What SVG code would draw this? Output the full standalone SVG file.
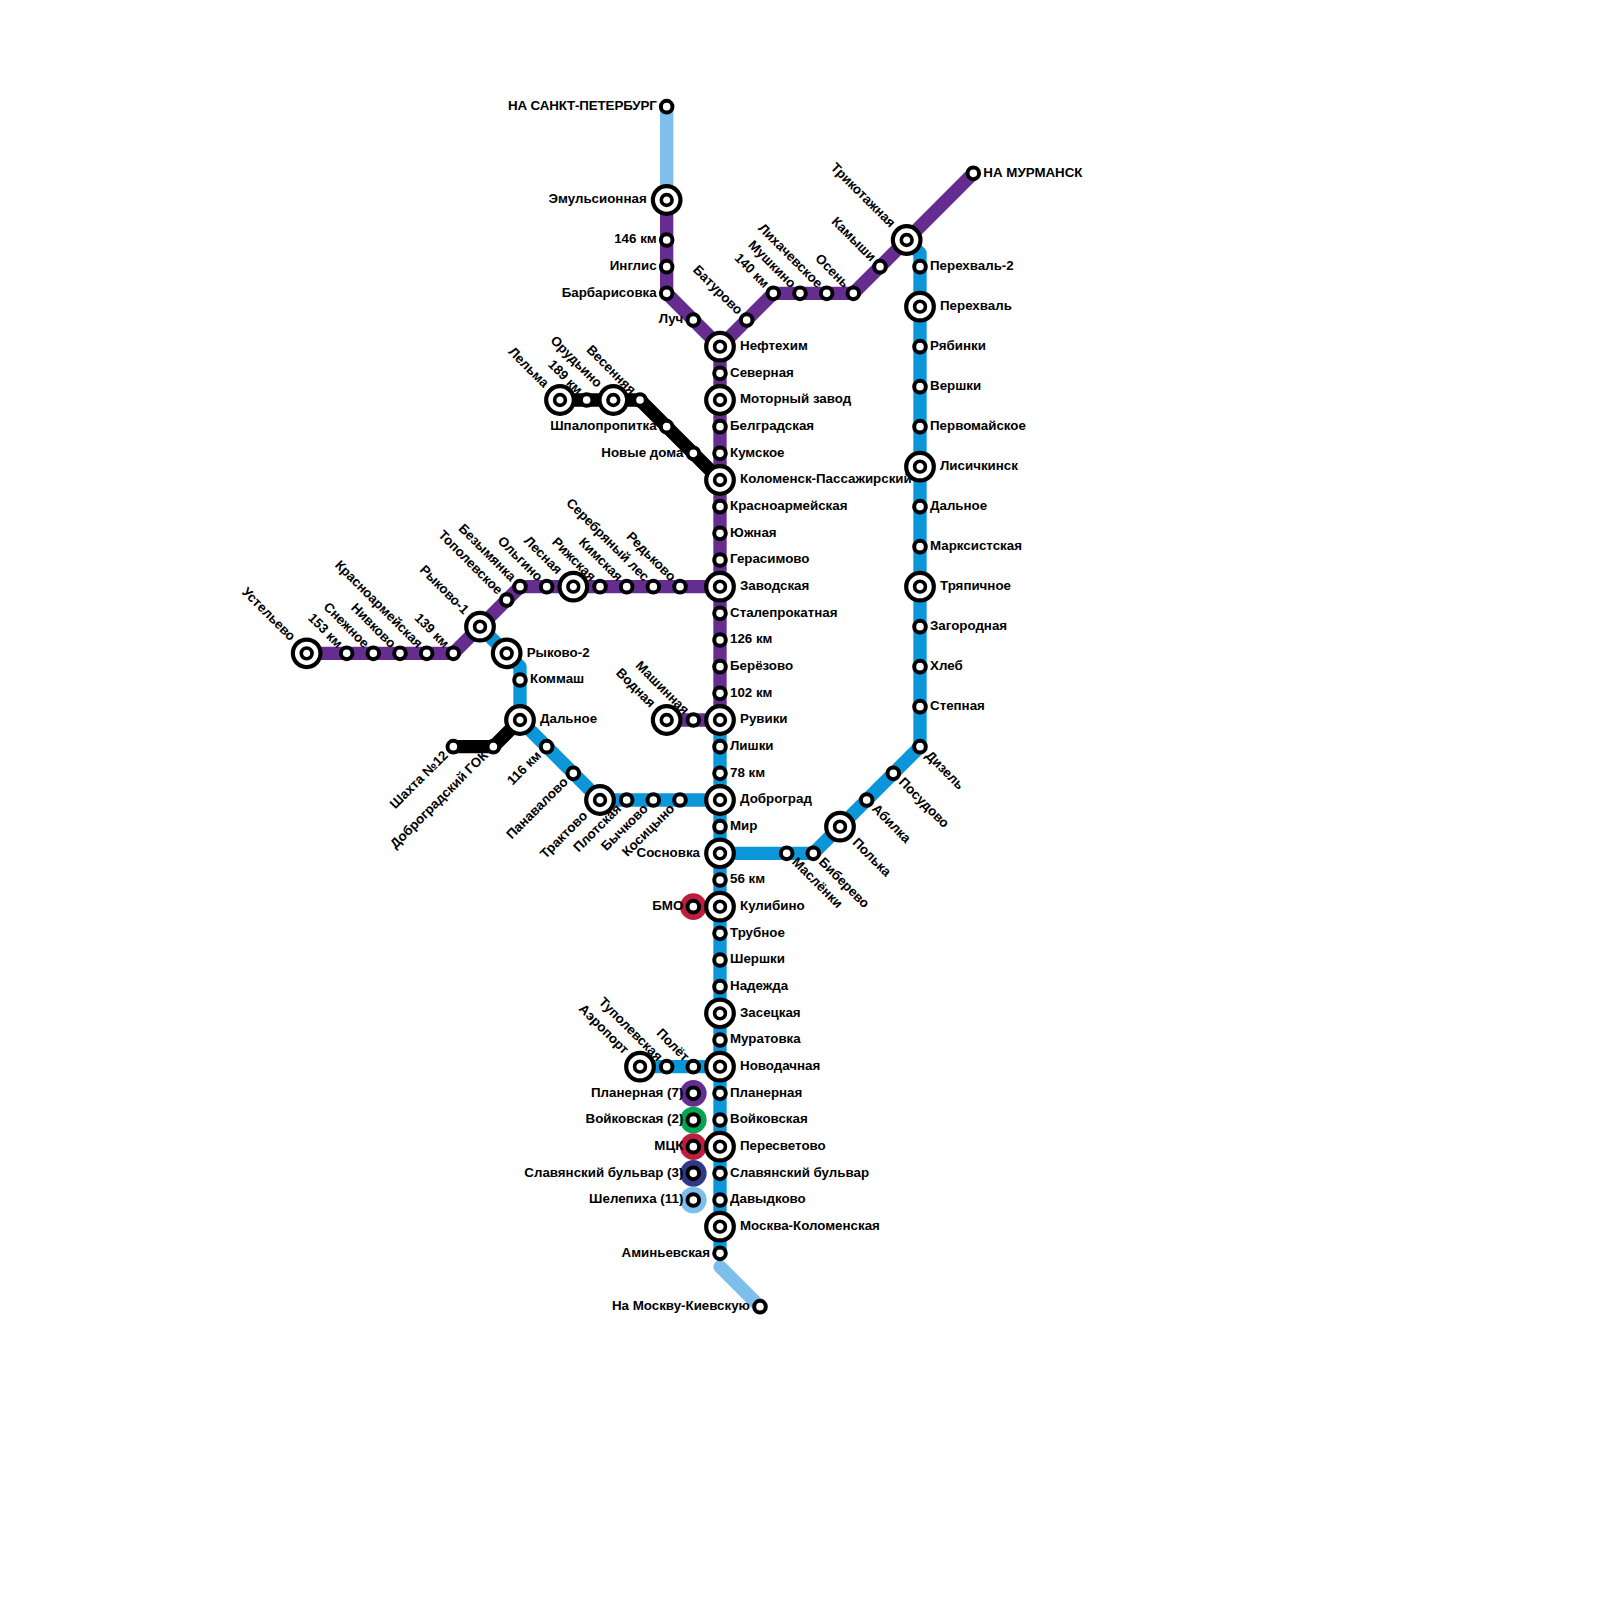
<svg xmlns="http://www.w3.org/2000/svg" width="1600" height="1600" viewBox="0 0 1600 1600">
<style>
text{font-family:"Liberation Sans",Arial,sans-serif;font-weight:700;font-size:13.33px;fill:#000}
.l{fill:none;stroke-width:13.33;stroke-linecap:round;stroke-linejoin:round}
.p{stroke:#662d91}.b{stroke:#0a96d8}.k{stroke:#000}.c{stroke:#7dbfea}
.e{text-anchor:end}
</style>
<defs>
<g id="s"><circle r="5.8" fill="#fff" stroke="#000" stroke-width="4"/></g>
<g id="B"><circle r="13.8" fill="#fff" stroke="#000" stroke-width="4.2"/><circle r="5.4" fill="#fff" stroke="#000" stroke-width="3.6"/></g>
</defs>
<g id="connectors">
<path class="l c" d="M666.67 106.67V200"/>
<path class="l c" d="M720 1266.67L760 1306.67"/>
<path class="l b" d="M906.67 240L920 253.33V746.67L813.33 853.33H720"/>
<path class="l b" d="M480 626.67L506.67 653.33L520 666.67V720L600 800H720"/>
<path class="l b" d="M640 1066.67H720"/>
<path class="l b" d="M720 720V1253.33"/>
<path class="l p" d="M666.67 200V293.33L720 346.67V720"/>
<path class="l p" d="M720 346.67L773.33 293.33H853.33L973.33 173.33"/>
<path class="l p" d="M306.67 653.33H453.33L520 586.67H720"/>
<path class="l p" d="M666.67 720H720"/>
<path class="l k" d="M560 400H640L720 480"/>
<path class="l k" d="M453.33 746.67H493.33L520 720"/>
</g>
<g id="halos">
<circle cx="693.33" cy="906.67" r="13.33" fill="#be1e3d"/>
<circle cx="693.33" cy="1093.33" r="13.33" fill="#662d91"/>
<circle cx="693.33" cy="1120" r="13.33" fill="#00a651"/>
<circle cx="693.33" cy="1146.67" r="13.33" fill="#be1e3d"/>
<circle cx="693.33" cy="1173.33" r="13.33" fill="#2e3a87"/>
<circle cx="693.33" cy="1200" r="13.33" fill="#7dbfea"/>
</g>
<g id="n1" transform="translate(666.67 106.67)"><use href="#s"/><text class="e" x="-10" y="3.4" letter-spacing="-0.12">НА САНКТ-ПЕТЕРБУРГ</text></g>
<g id="n2" transform="translate(666.67 200)"><use href="#B"/><text class="e" x="-20" y="3.4">Эмульсионная</text></g>
<g id="n3" transform="translate(666.67 240)"><use href="#s"/><text class="e" x="-10" y="3.4">146 км</text></g>
<g id="n4" transform="translate(666.67 266.67)"><use href="#s"/><text class="e" x="-10" y="3.4">Инглис</text></g>
<g id="n5" transform="translate(666.67 293.33)"><use href="#s"/><text class="e" x="-10" y="3.4">Барбарисовка</text></g>
<g id="n6" transform="translate(693.33 320)"><use href="#s"/><text class="e" x="-10" y="3.4">Луч</text></g>
<g id="n7" transform="translate(720 346.67)"><use href="#B"/><text x="20" y="3.4">Нефтехим</text></g>
<g id="n8" transform="translate(720 373.33)"><use href="#s"/><text x="10" y="3.4">Северная</text></g>
<g id="n9" transform="translate(720 400)"><use href="#B"/><text x="20" y="3.4">Моторный завод</text></g>
<g id="n10" transform="translate(720 426.67)"><use href="#s"/><text x="10" y="3.4">Белградская</text></g>
<g id="n11" transform="translate(720 453.33)"><use href="#s"/><text x="10" y="3.4">Кумское</text></g>
<g id="n12" transform="translate(720 480)"><use href="#B"/><text x="20" y="3.4">Коломенск-Пассажирский</text></g>
<g id="n13" transform="translate(720 506.67)"><use href="#s"/><text x="10" y="3.4">Красноармейская</text></g>
<g id="n14" transform="translate(720 533.33)"><use href="#s"/><text x="10" y="3.4">Южная</text></g>
<g id="n15" transform="translate(720 560)"><use href="#s"/><text x="10" y="3.4">Герасимово</text></g>
<g id="n16" transform="translate(720 586.67)"><use href="#B"/><text x="20" y="3.4">Заводская</text></g>
<g id="n17" transform="translate(720 613.33)"><use href="#s"/><text x="10" y="3.4">Сталепрокатная</text></g>
<g id="n18" transform="translate(720 640)"><use href="#s"/><text x="10" y="3.4">126 км</text></g>
<g id="n19" transform="translate(720 666.67)"><use href="#s"/><text x="10" y="3.4">Берёзово</text></g>
<g id="n20" transform="translate(720 693.33)"><use href="#s"/><text x="10" y="3.4">102 км</text></g>
<g id="n21" transform="translate(720 720)"><use href="#B"/><text x="20" y="3.4">Рувики</text></g>
<g id="n22" transform="translate(720 746.67)"><use href="#s"/><text x="10" y="3.4">Лишки</text></g>
<g id="n23" transform="translate(720 773.33)"><use href="#s"/><text x="10" y="3.4">78 км</text></g>
<g id="n24" transform="translate(720 800)"><use href="#B"/><text x="20" y="3.4">Доброград</text></g>
<g id="n25" transform="translate(720 826.67)"><use href="#s"/><text x="10" y="3.4">Мир</text></g>
<g id="n26" transform="translate(720 853.33)"><use href="#B"/><text class="e" x="-20" y="3.4">Сосновка</text></g>
<g id="n27" transform="translate(720 880)"><use href="#s"/><text x="10" y="3.4">56 км</text></g>
<g id="n28" transform="translate(720 906.67)"><use href="#B"/><text x="20" y="3.4">Кулибино</text></g>
<g id="n29" transform="translate(720 933.33)"><use href="#s"/><text x="10" y="3.4">Трубное</text></g>
<g id="n30" transform="translate(720 960)"><use href="#s"/><text x="10" y="3.4">Шершки</text></g>
<g id="n31" transform="translate(720 986.67)"><use href="#s"/><text x="10" y="3.4">Надежда</text></g>
<g id="n32" transform="translate(720 1013.33)"><use href="#B"/><text x="20" y="3.4">Засецкая</text></g>
<g id="n33" transform="translate(720 1040)"><use href="#s"/><text x="10" y="3.4">Муратовка</text></g>
<g id="n34" transform="translate(720 1066.67)"><use href="#B"/><text x="20" y="3.4">Новодачная</text></g>
<g id="n35" transform="translate(720 1093.33)"><use href="#s"/><text x="10" y="3.4">Планерная</text></g>
<g id="n36" transform="translate(720 1120)"><use href="#s"/><text x="10" y="3.4">Войковская</text></g>
<g id="n37" transform="translate(720 1146.67)"><use href="#B"/><text x="20" y="3.4">Пересветово</text></g>
<g id="n38" transform="translate(720 1173.33)"><use href="#s"/><text x="10" y="3.4">Славянский бульвар</text></g>
<g id="n39" transform="translate(720 1200)"><use href="#s"/><text x="10" y="3.4">Давыдково</text></g>
<g id="n40" transform="translate(720 1226.67)"><use href="#B"/><text x="20" y="3.4">Москва-Коломенская</text></g>
<g id="n41" transform="translate(720 1253.33)"><use href="#s"/><text class="e" x="-10" y="3.4">Аминьевская</text></g>
<g id="n42" transform="translate(760 1306.67)"><use href="#s"/><text class="e" x="-10" y="3.4">На Москву-Киевскую</text></g>
<g id="n43" transform="translate(693.33 906.67)"><use href="#s"/><text class="e" x="-10" y="3.4">БМО</text></g>
<g id="n44" transform="translate(693.33 1093.33)"><use href="#s"/><text class="e" x="-10" y="3.4">Планерная (7)</text></g>
<g id="n45" transform="translate(693.33 1120)"><use href="#s"/><text class="e" x="-10" y="3.4">Войковская (2)</text></g>
<g id="n46" transform="translate(693.33 1146.67)"><use href="#s"/><text class="e" x="-10" y="3.4">МЦК</text></g>
<g id="n47" transform="translate(693.33 1173.33)"><use href="#s"/><text class="e" x="-10" y="3.4">Славянский бульвар (3)</text></g>
<g id="n48" transform="translate(693.33 1200)"><use href="#s"/><text class="e" x="-10" y="3.4">Шелепиха (11)</text></g>
<g id="n49" transform="translate(973.33 173.33)"><use href="#s"/><text x="10" y="3.4">НА МУРМАНСК</text></g>
<g id="n50" transform="translate(906.67 240)"><use href="#B"/><text class="e" transform="rotate(45)" x="-20" y="3.4">Трикотажная</text></g>
<g id="n51" transform="translate(880 266.67)"><use href="#s"/><text class="e" transform="rotate(45)" x="-10" y="3.4">Камыши</text></g>
<g id="n52" transform="translate(853.33 293.33)"><use href="#s"/><text class="e" transform="rotate(45)" x="-10" y="3.4">Осень</text></g>
<g id="n53" transform="translate(826.67 293.33)"><use href="#s"/><text class="e" transform="rotate(45)" x="-10" y="3.4">Лихачевское</text></g>
<g id="n54" transform="translate(800 293.33)"><use href="#s"/><text class="e" transform="rotate(45)" x="-10" y="3.4">Мушкино</text></g>
<g id="n55" transform="translate(773.33 293.33)"><use href="#s"/><text class="e" transform="rotate(45)" x="-10" y="3.4">140 км</text></g>
<g id="n56" transform="translate(746.67 320)"><use href="#s"/><text class="e" transform="rotate(45)" x="-10" y="3.4">Батурово</text></g>
<g id="n57" transform="translate(920 266.67)"><use href="#s"/><text x="10" y="3.4">Перехваль-2</text></g>
<g id="n58" transform="translate(920 306.67)"><use href="#B"/><text x="20" y="3.4">Перехваль</text></g>
<g id="n59" transform="translate(920 346.67)"><use href="#s"/><text x="10" y="3.4">Рябинки</text></g>
<g id="n60" transform="translate(920 386.67)"><use href="#s"/><text x="10" y="3.4">Вершки</text></g>
<g id="n61" transform="translate(920 426.67)"><use href="#s"/><text x="10" y="3.4">Первомайское</text></g>
<g id="n62" transform="translate(920 466.67)"><use href="#B"/><text x="20" y="3.4">Лисичкинск</text></g>
<g id="n63" transform="translate(920 506.67)"><use href="#s"/><text x="10" y="3.4">Дальное</text></g>
<g id="n64" transform="translate(920 546.67)"><use href="#s"/><text x="10" y="3.4">Марксистская</text></g>
<g id="n65" transform="translate(920 586.67)"><use href="#B"/><text x="20" y="3.4">Тряпичное</text></g>
<g id="n66" transform="translate(920 626.67)"><use href="#s"/><text x="10" y="3.4">Загородная</text></g>
<g id="n67" transform="translate(920 666.67)"><use href="#s"/><text x="10" y="3.4">Хлеб</text></g>
<g id="n68" transform="translate(920 706.67)"><use href="#s"/><text x="10" y="3.4">Степная</text></g>
<g id="n69" transform="translate(920 746.67)"><use href="#s"/><text transform="rotate(45)" x="10" y="3.4">Дизель</text></g>
<g id="n70" transform="translate(893.33 773.33)"><use href="#s"/><text transform="rotate(45)" x="10" y="3.4">Посудово</text></g>
<g id="n71" transform="translate(866.67 800)"><use href="#s"/><text transform="rotate(45)" x="10" y="3.4">Абилка</text></g>
<g id="n72" transform="translate(840 826.67)"><use href="#B"/><text transform="rotate(45)" x="20" y="3.4">Полька</text></g>
<g id="n73" transform="translate(813.33 853.33)"><use href="#s"/><text transform="rotate(45)" x="10" y="3.4">Биберево</text></g>
<g id="n74" transform="translate(786.67 853.33)"><use href="#s"/><text transform="rotate(45)" x="10" y="3.4">Маслёнки</text></g>
<g id="n75" transform="translate(560 400)"><use href="#B"/><text class="e" transform="rotate(45)" x="-20" y="3.4">Лельма</text></g>
<g id="n76" transform="translate(586.67 400)"><use href="#s"/><text class="e" transform="rotate(45)" x="-10" y="3.4">189 км</text></g>
<g id="n77" transform="translate(613.33 400)"><use href="#B"/><text class="e" transform="rotate(45)" x="-20" y="3.4">Орудьино</text></g>
<g id="n78" transform="translate(640 400)"><use href="#s"/><text class="e" transform="rotate(45)" x="-10" y="3.4">Весенняя</text></g>
<g id="n79" transform="translate(666.67 426.67)"><use href="#s"/><text class="e" x="-10" y="3.4">Шпалопропитка</text></g>
<g id="n80" transform="translate(693.33 453.33)"><use href="#s"/><text class="e" x="-10" y="3.4">Новые дома</text></g>
<g id="n81" transform="translate(680 586.67)"><use href="#s"/><text class="e" transform="rotate(45)" x="-10" y="3.4">Редьково</text></g>
<g id="n82" transform="translate(653.33 586.67)"><use href="#s"/><text class="e" transform="rotate(45)" x="-10" y="3.4">Серебряный лес</text></g>
<g id="n83" transform="translate(626.67 586.67)"><use href="#s"/><text class="e" transform="rotate(45)" x="-10" y="3.4">Кимская</text></g>
<g id="n84" transform="translate(600 586.67)"><use href="#s"/><text class="e" transform="rotate(45)" x="-10" y="3.4">Рижская</text></g>
<g id="n85" transform="translate(573.33 586.67)"><use href="#B"/><text class="e" transform="rotate(45)" x="-20" y="3.4">Лесная</text></g>
<g id="n86" transform="translate(546.67 586.67)"><use href="#s"/><text class="e" transform="rotate(45)" x="-10" y="3.4">Ольгино</text></g>
<g id="n87" transform="translate(520 586.67)"><use href="#s"/><text class="e" transform="rotate(45)" x="-10" y="3.4">Безымянка</text></g>
<g id="n88" transform="translate(506.67 600)"><use href="#s"/><text class="e" transform="rotate(45)" x="-10" y="3.4">Тополевское</text></g>
<g id="n89" transform="translate(480 626.67)"><use href="#B"/><text class="e" transform="rotate(45)" x="-20" y="3.4">Рыково-1</text></g>
<g id="n90" transform="translate(453.33 653.33)"><use href="#s"/><text class="e" transform="rotate(45)" x="-10" y="3.4">139 км</text></g>
<g id="n91" transform="translate(426.67 653.33)"><use href="#s"/><text class="e" transform="rotate(45)" x="-10" y="3.4">Красноармейская</text></g>
<g id="n92" transform="translate(400 653.33)"><use href="#s"/><text class="e" transform="rotate(45)" x="-10" y="3.4">Нивково</text></g>
<g id="n93" transform="translate(373.33 653.33)"><use href="#s"/><text class="e" transform="rotate(45)" x="-10" y="3.4">Снежное</text></g>
<g id="n94" transform="translate(346.67 653.33)"><use href="#s"/><text class="e" transform="rotate(45)" x="-10" y="3.4">153 км</text></g>
<g id="n95" transform="translate(306.67 653.33)"><use href="#B"/><text class="e" transform="rotate(45)" x="-20" y="3.4">Устельево</text></g>
<g id="n96" transform="translate(506.67 653.33)"><use href="#B"/><text x="20" y="3.4">Рыково-2</text></g>
<g id="n97" transform="translate(520 680)"><use href="#s"/><text x="10" y="3.4">Коммаш</text></g>
<g id="n98" transform="translate(520 720)"><use href="#B"/><text x="20" y="3.4">Дальное</text></g>
<g id="n99" transform="translate(453.33 746.67)"><use href="#s"/><text class="e" transform="rotate(-45)" x="-10" y="3.4">Шахта №12</text></g>
<g id="n100" transform="translate(493.33 746.67)"><use href="#s"/><text class="e" transform="rotate(-45)" x="-10" y="3.4">Доброградский ГОК</text></g>
<g id="n101" transform="translate(546.67 746.67)"><use href="#s"/><text class="e" transform="rotate(-45)" x="-10" y="3.4">116 км</text></g>
<g id="n102" transform="translate(573.33 773.33)"><use href="#s"/><text class="e" transform="rotate(-45)" x="-10" y="3.4">Панавалово</text></g>
<g id="n103" transform="translate(600 800)"><use href="#B"/><text class="e" transform="rotate(-45)" x="-20" y="3.4">Трактово</text></g>
<g id="n104" transform="translate(626.67 800)"><use href="#s"/><text class="e" transform="rotate(-45)" x="-10" y="3.4">Плотская</text></g>
<g id="n105" transform="translate(653.33 800)"><use href="#s"/><text class="e" transform="rotate(-45)" x="-10" y="3.4">Бычково</text></g>
<g id="n106" transform="translate(680 800)"><use href="#s"/><text class="e" transform="rotate(-45)" x="-10" y="3.4">Косицыно</text></g>
<g id="n107" transform="translate(666.67 720)"><use href="#B"/><text class="e" transform="rotate(45)" x="-20" y="3.4">Водная</text></g>
<g id="n108" transform="translate(693.33 720)"><use href="#s"/><text class="e" transform="rotate(45)" x="-10" y="3.4">Машинная</text></g>
<g id="n109" transform="translate(640 1066.67)"><use href="#B"/><text class="e" transform="rotate(45)" x="-20" y="3.4">Аэропорт</text></g>
<g id="n110" transform="translate(666.67 1066.67)"><use href="#s"/><text class="e" transform="rotate(45)" x="-10" y="3.4">Туполевская</text></g>
<g id="n111" transform="translate(693.33 1066.67)"><use href="#s"/><text class="e" transform="rotate(45)" x="-10" y="3.4">Полёт</text></g>
</svg>
